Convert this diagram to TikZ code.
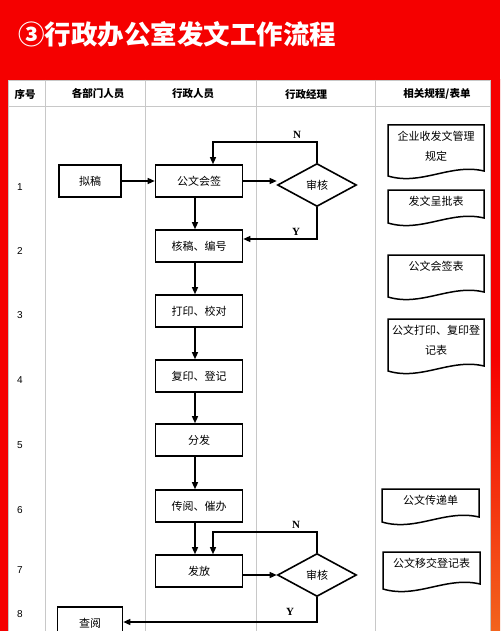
\documentclass[tikz,border=0pt]{standalone}
\usepackage{fontspec}
\newfontfamily\cjk{Noto Sans CJK SC}
\newfontfamily\serifb{Liberation Serif}
\newfontfamily\numf{Liberation Sans}
\usetikzlibrary{shapes.geometric,arrows.meta}
\definecolor{bgred}{RGB}{245,0,0}
\definecolor{bgorange}{RGB}{242,100,30}
\definecolor{gridgray}{RGB}{200,200,200}
\newcommand\DocShape[6]{%
  \draw[docline] (#1,#2) -- (#3,#2) -- (#3,{#4-5})
    .. controls ({#1+0.65*(#3-#1)},{#4-13}) and ({#1+0.35*(#3-#1)},{#4+10}) .. (#1,#4) -- cycle;
  \node[doctext] (#5) at ({(#1+#3)/2},{#2}) [anchor=north,yshift=-6pt] {#6};
}
\begin{document}
\begin{tikzpicture}[x=1pt,y=-1pt,
  box/.style={draw=black,line width=1.6pt,minimum width=87pt,minimum height=32pt,inner sep=0pt,font=\cjk\fontsize{11}{13}\selectfont},
  dia/.style={draw=black,line width=1.6pt,diamond,minimum width=79pt,minimum height=43pt,inner sep=0pt,font=\cjk\fontsize{11}{13}\selectfont},
  arr/.style={line width=1.3pt,-{Triangle[length=7pt,width=6pt]}},
  docline/.style={draw=black,line width=1.5pt},
  doctext/.style={font=\cjk\fontsize{11}{20}\selectfont,align=center,inner sep=0pt},
  head/.style={font=\cjk\bfseries\fontsize{10.5}{12}\selectfont},
  rownum/.style={font=\numf\fontsize{10}{12}\selectfont},
  yn/.style={font=\serifb\bfseries\fontsize{11}{12}\selectfont},
  grid/.style={draw=gridgray,line width=0.6pt}]
\useasboundingbox (0,0) rectangle (500,631);
% background
\fill[bgred] (0,0) rectangle (500,631);
\shade[top color=bgred,bottom color=bgorange,middle color=bgred] (490,80) rectangle (500,631);
\fill[white] (8,80) rectangle (490,631);
% title
\node[anchor=west,text=white,font=\cjk\bfseries\fontsize{26.5}{30}\selectfont,inner sep=0pt] (title) at (18,34) {③行政办公室发文工作流程};
% table grid
\draw[grid] (8,80) rectangle (490,640);
\draw[grid] (8,106) -- (490,106);
\foreach \gx in {45,145,256,375} \draw[grid] (\gx,80) -- (\gx,631);
% headers
\node[head] (h1) at (25,94) {序号};
\node[head] (h2) at (98,94) {各部门人员};
\node[head] (h3) at (193,94) {行政人员};
\node[head] (h4) at (306,94) {行政经理};
\node[head] (h5) at (437,94) {相关规程/表单};
% row numbers
\node[rownum] (r1) at (20,187) {1};
\node[rownum] (r2) at (20,251) {2};
\node[rownum] (r3) at (20,315) {3};
\node[rownum] (r4) at (20,380) {4};
\node[rownum] (r5) at (20,445) {5};
\node[rownum] (r6) at (20,510) {6};
\node[rownum] (r7) at (20,570) {7};
\node[rownum] (r8) at (20,614) {8};
% process boxes
\node[box,minimum width=62pt] (ng) at (90,181) {拟稿};
\node[box] (hq) at (199,181) {公文会签};
\node[box] (hb) at (199,246) {核稿、编号};
\node[box] (dy) at (199,311) {打印、校对};
\node[box] (fy) at (199,376) {复印、登记};
\node[box] (ff) at (199,440) {分发};
\node[box] (cy) at (199,506) {传阅、催办};
\node[box] (fa) at (199,571) {发放};
\node[box,minimum width=65pt] (ck) at (90,623) {查阅};
% decisions
\node[dia] (d1) at (317,185) {审核};
\node[dia] (d2) at (317,575) {审核};
% connectors
\draw[arr] (ng) -- (hq);
\draw[arr] (hq.east) -- (d1.west |- hq.east);
\coordinate (n1c) at (213,142);
\draw[arr] (d1.north) |- (n1c) -- (n1c |- hq.north);
\coordinate (y1c) at (317,239);
\draw[arr] (d1.south) -- (y1c) -- (y1c -| hb.east);
\draw[arr] ([xshift=-4pt]hq.south) -- ([xshift=-4pt]hb.north);
\draw[arr] ([xshift=-4pt]hb.south) -- ([xshift=-4pt]dy.north);
\draw[arr] ([xshift=-4pt]dy.south) -- ([xshift=-4pt]fy.north);
\draw[arr] ([xshift=-4pt]fy.south) -- ([xshift=-4pt]ff.north);
\draw[arr] ([xshift=-4pt]ff.south) -- ([xshift=-4pt]cy.north);
\draw[arr] ([xshift=-4pt]cy.south) -- ([xshift=-4pt]fa.north);
\draw[arr] (fa.east |- d2.west) -- (d2.west);
\coordinate (n2c) at (213,532);
\draw[arr] (d2.north) |- (n2c) -- (n2c |- fa.north);
\coordinate (y2c) at (317,622);
\draw[arr] (d2.south) -- (y2c) -- (y2c -| ck.east);
% Y/N labels
\node[yn] (ln1) at (297,135) {N};
\node[yn] (ly1) at (296,232) {Y};
\node[yn] (ln2) at (296,525) {N};
\node[yn] (ly2) at (290,612) {Y};
% documents
\DocShape{388}{125}{484}{176}{doc1}{企业收发文管理\\规定}
\DocShape{388}{190}{484}{223}{doc2}{发文呈批表}
\DocShape{388}{255}{484}{297}{doc3}{公文会签表}
\DocShape{388}{319}{484}{371}{doc4}{公文打印、复印登\\记表}
\DocShape{382}{489}{479}{522}{doc5}{公文传递单}
\DocShape{383}{552}{480}{589}{doc6}{公文移交登记表}
\end{tikzpicture}
\end{document}
